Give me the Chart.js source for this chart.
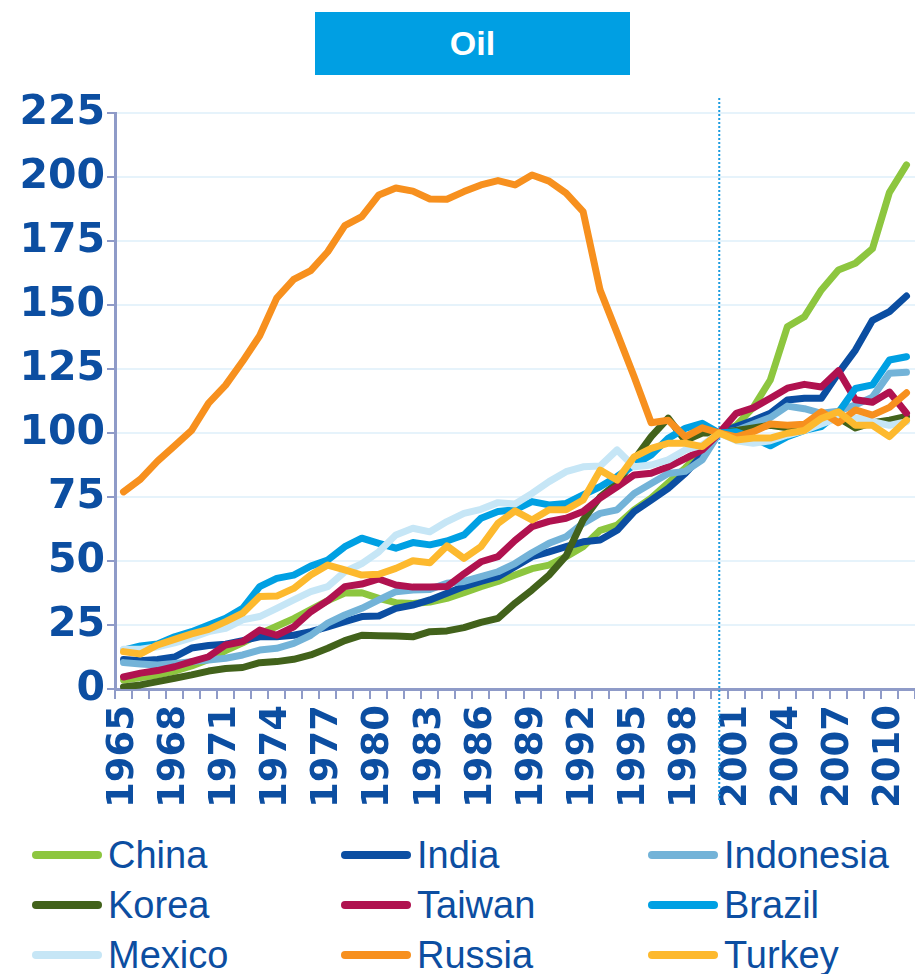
<!DOCTYPE html>
<html>
<head>
<meta charset="utf-8">
<script src="https://cdn.jsdelivr.net/npm/chart.js@4/dist/chart.umd.min.js"></script>
<style>
  body { margin: 0; background: #fff; width: 915px; height: 974px; position: relative; overflow: hidden; font-family: "Liberation Sans", Arial, sans-serif; }
  #title { position: absolute; left: 315px; top: 12px; width: 315px; height: 63px; background: #009fe3; color: #fff; font-size: 34px; font-weight: bold; line-height: 63px; text-align: center; }
  #chart { position: absolute; left: 0; top: 0; }
  .item { position: absolute; height: 50px; display: flex; align-items: center; color: #0c4ea1; font-size: 38px; white-space: nowrap; }
  .sw { width: 70px; height: 8px; border-radius: 4px; margin-right: 6px; }
</style>
</head>
<body>
<div id="title">Oil</div>
<canvas id="chart" width="915" height="830"></canvas>
<div id="legend"></div>
<script>
// Oil consumption index, 2000 = 100
const years = ['1965','1966','1967','1968','1969','1970','1971','1972','1973','1974',
  '1975','1976','1977','1978','1979','1980','1981','1982','1983','1984',
  '1985','1986','1987','1988','1989','1990','1991','1992','1993','1994',
  '1995','1996','1997','1998','1999','2000','2001','2002','2003','2004',
  '2005','2006','2007','2008','2009','2010','2011'];

const china = [3.5, 4.5, 5.5, 7, 9, 11.5, 15, 18, 21.5, 24.5, 27.5, 31, 34.5, 37.5, 37.6, 35.4, 33.7, 33.4, 34, 35.4,
  37.6, 40, 42, 44.5, 47, 48.4, 51.7, 55.6, 62, 64, 70, 74.6, 80.5, 86.3, 93, 100, 103, 110, 120.7, 141.5,
  145.4, 155.9, 163.7, 166.3, 172, 194, 204.7];
const india = [11.5, 11, 11.5, 12.5, 16, 17, 17.5, 18.9, 20.4, 20.4, 21, 22.4, 24.3, 26.3, 28.3, 28.5, 31.5, 32.8, 34.8, 37.4,
  40, 42, 43.9, 47.8, 51.7, 53.6, 55.6, 57.5, 58.2, 62, 69.3, 73.8, 78.4, 84.2, 91.4, 100, 102.5, 105, 107.7, 112.9,
  113.6, 113.6, 123.4, 132.4, 144, 147.4, 153.5];
const indonesia = [10.3, 9.8, 9.4, 10, 10.7, 11.3, 12, 13.3, 15.2, 15.9, 17.8, 21, 25.7, 28.9, 31.5, 34.8, 38, 38.7, 38.9, 41.3,
  42, 43.9, 45.8, 49, 53.2, 56.9, 59.5, 64.7, 68.6, 70, 76.4, 80.3, 84.2, 85, 89.5, 100, 101, 103.5, 106, 110.5,
  109.5, 107.7, 108.5, 111, 114, 123.3, 123.7];
const korea = [0.8, 1.6, 2.9, 4.2, 5.5, 7, 8, 8.4, 10.3, 10.7, 11.6, 13.3, 15.9, 18.9, 21, 20.8, 20.7, 20.4, 22.4, 22.7,
  24, 26, 27.6, 33.5, 38.7, 44.5, 52, 66, 75, 80.4, 89.5, 98.6, 105.8, 97, 100, 100, 101, 102, 103, 102,
  103, 104, 106, 102, 104, 105, 106.5];
const taiwan = [4.7, 6.2, 7.2, 8.7, 10.7, 12.6, 17.2, 18.5, 23, 21, 24.3, 30.2, 34.5, 40, 41, 43, 40.6, 39.8, 39.8, 40,
  45, 49.7, 51.7, 58, 63.4, 65.5, 66.7, 69.3, 74.6, 79, 83.6, 84.3, 86.8, 90, 93.4, 100, 107.7, 109.8, 113.6, 117.5,
  119, 118, 124.3, 113, 112, 116, 107.7];
const brazil = [15.2, 16.8, 17.6, 20.4, 22.4, 25, 27.6, 31.5, 40, 43.2, 44.5, 48, 50.4, 55.6, 58.9, 56.9, 55, 57.2, 56.3, 57.8,
  60.2, 66.7, 69.3, 70, 73.2, 71.9, 72.5, 75.8, 79, 83, 87.5, 91.4, 97.9, 101.8, 103.8, 100, 100.5, 98, 95, 98.6,
  101, 102.5, 108, 117.4, 118.8, 128.5, 129.8];
const mexico = [15.5, 15.5, 16.5, 18, 20, 22.4, 23.7, 27, 28.3, 31.5, 34.8, 38, 40, 45.8, 49, 53.6, 60.2, 62.8, 61.4, 65.4,
  68.6, 70.2, 72.8, 72.3, 76.4, 81, 84.9, 86.8, 87.1, 93.4, 86.8, 87.5, 89.5, 93.4, 95.3, 100, 97, 96, 97, 99.2,
  101, 103.5, 106, 106, 104.4, 103, 104.4];
const russia = [77, 82, 89, 95, 101, 111.7, 118.7, 128, 138, 152.7, 160, 163.4, 170.8, 181, 184.5, 193, 195.7, 194.5, 191.4, 191.3,
  194.3, 196.9, 198.6, 196.9, 200.8, 198.4, 193.7, 186.5, 155.8, 139, 122, 104, 105, 98.5, 102, 100, 98.5, 100.5, 103.5, 103,
  103.4, 108.3, 104, 109, 107, 110, 115.7];
const turkey = [14.6, 13.7, 17.2, 19.4, 21.5, 23.3, 26.3, 29.6, 36.1, 36.3, 39.3, 44.5, 48.4, 46.5, 44.5, 44.8, 47.1, 50.1, 49.3, 55.9,
  51, 55.6, 64.7, 69.6, 66, 70, 70, 73.8, 85.5, 81.6, 90.7, 94, 96, 96, 94.7, 100, 97.3, 98, 98, 99.9,
  101, 105.7, 108.3, 103, 103, 98.6, 105];

const countries = ['China', 'India', 'Indonesia', 'Korea', 'Taiwan', 'Brazil', 'Mexico', 'Russia', 'Turkey'];
const seriesData = [china, india, indonesia, korea, taiwan, brazil, mexico, russia, turkey];
const colors = ['#8dc63f', '#0b4ea2', '#73b3d8', '#42621b', '#b0124f', '#00a0e3', '#c6e6f6', '#f7901e', '#fdb92e'];

const textColor = '#0c4ea1';
const axisColor = '#8f9bc8';

// vertical dotted marker at 2000
const dottedLine = {
  id: 'dottedLine',
  beforeDatasetsDraw(chart) {
    const x = chart.scales.x.getPixelForValue(years.indexOf('2000'));
    const c = chart.ctx;
    c.save();
    c.strokeStyle = '#1a9be0';
    c.lineWidth = 2;
    c.setLineDash([2, 2]);
    c.beginPath();
    c.moveTo(x, 98);
    c.lineTo(x, 800);
    c.stroke();
    c.restore();
  }
};

const datasets = countries.map((name, i) => ({
  label: name,
  data: seriesData[i],
  borderColor: colors[i],
  backgroundColor: colors[i],
  order: countries.length - i   // later series on top, like the original
}));

new Chart(document.getElementById('chart'), {
  type: 'line',
  data: { labels: years, datasets: datasets },
  options: {
    responsive: false,
    animation: false,
    devicePixelRatio: 1,
    layout: { padding: { top: 113, right: 0, left: 0, bottom: 0 } },
    plugins: { legend: { display: false }, tooltip: { enabled: false } },
    elements: {
      point: { radius: 0 },
      line: { borderWidth: 7, tension: 0, borderJoinStyle: 'round', borderCapStyle: 'round' }
    },
    scales: {
      x: {
        offset: true,
        grid: { offset: true, drawOnChartArea: false, color: axisColor, tickColor: axisColor, tickLength: 10, lineWidth: 2 },
        border: { color: axisColor, width: 3 },
        ticks: {
          autoSkip: false, minRotation: 90, maxRotation: 90, padding: 6,
          color: textColor, font: { family: 'DejaVu Sans', size: 37, weight: 'bold' },
          callback: (v, i) => (i % 3 === 0 ? years[i] : '')
        },
        afterFit: (s) => { s.height = 830 - 689; s.paddingLeft = 0; s.paddingRight = 0; }
      },
      y: {
        min: 0, max: 225,
        grid: { color: '#e6f3fb', lineWidth: 2, tickColor: axisColor, tickLength: 8 },
        border: { color: axisColor, width: 3 },
        ticks: { stepSize: 25, padding: 2, color: textColor, font: { family: 'DejaVu Sans', size: 41, weight: 'bold' } },
        afterFit: (s) => { s.width = 115; s.paddingTop = 0; s.paddingBottom = 0; }
      }
    }
  },
  plugins: [dottedLine]
});

// legend, 3 columns
const legendCols = [32, 341, 648];
const legendRows = [855, 905, 955];
const legend = document.getElementById('legend');
countries.forEach((name, i) => {
  const item = document.createElement('div');
  item.className = 'item';
  item.style.left = legendCols[i % 3] + 'px';
  item.style.top = (legendRows[Math.floor(i / 3)] - 25) + 'px';
  item.innerHTML = '<span class="sw" style="background:' + colors[i] + '"></span>' + name;
  legend.appendChild(item);
});
</script>
</body>
</html>
